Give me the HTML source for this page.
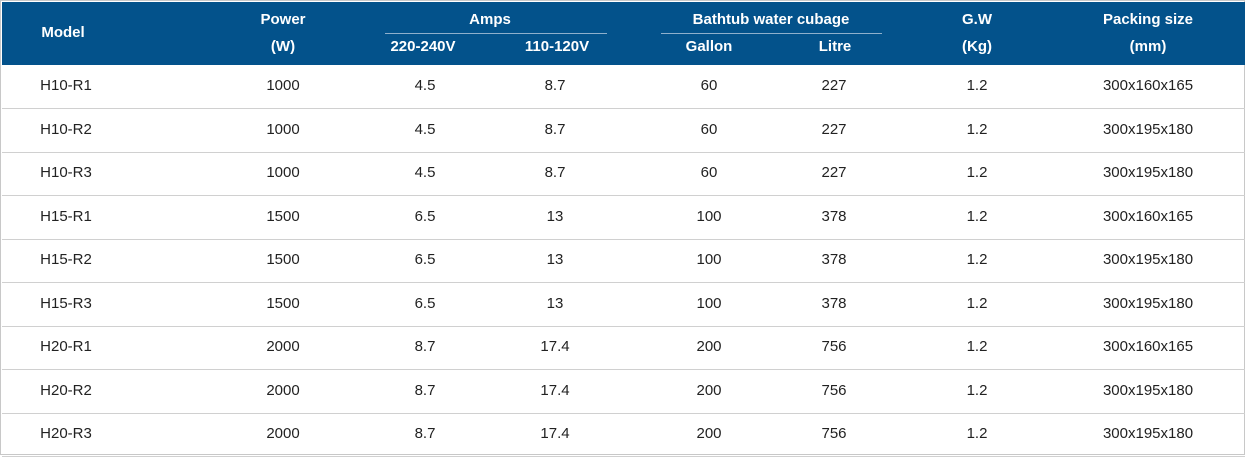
<!DOCTYPE html>
<html><head><meta charset="utf-8"><style>
body{margin:0;width:1245px;height:455px;overflow:hidden;background:#fff;font-family:"Liberation Sans",sans-serif;}
#t{position:absolute;left:0;top:0;width:1243px;height:453px;border:1px solid #c8c8c8;}
.hdr{position:absolute;left:1px;top:1px;width:1243px;height:63px;background:#03528b;}
.h{position:absolute;color:#fff;font-weight:bold;font-size:15px;transform:translateX(-50%);white-space:nowrap;}
.ul{position:absolute;height:1px;background:#8fb0cc;top:31px;}
.row{position:absolute;left:1px;width:1243px;height:43px;border-bottom:1px solid #d0d0d0;}
.c{position:absolute;top:12px;font-size:15px;color:#222;transform:translateX(-50%);white-space:nowrap;}
</style></head><body>
<div id="t">
<div class="hdr">
<span class="h" style="left:61px;top:22px">Model</span>
<span class="h" style="left:281px;top:9px">Power</span>
<span class="h" style="left:281px;top:36px">(W)</span>
<span class="h" style="left:488px;top:9px">Amps</span>
<div class="ul" style="left:383px;width:222px"></div>
<span class="h" style="left:421px;top:36px">220-240V</span>
<span class="h" style="left:555px;top:36px">110-120V</span>
<span class="h" style="left:769px;top:9px">Bathtub water cubage</span>
<div class="ul" style="left:659px;width:221px"></div>
<span class="h" style="left:707px;top:36px">Gallon</span>
<span class="h" style="left:833px;top:36px">Litre</span>
<span class="h" style="left:975px;top:9px">G.W</span>
<span class="h" style="left:975px;top:36px">(Kg)</span>
<span class="h" style="left:1146px;top:9px">Packing size</span>
<span class="h" style="left:1146px;top:36px">(mm)</span>
</div>
<div id="body"></div>
</div>
<script>
const rows=[
["H10-R1","1000","4.5","8.7","60","227","1.2","300x160x165"],
["H10-R2","1000","4.5","8.7","60","227","1.2","300x195x180"],
["H10-R3","1000","4.5","8.7","60","227","1.2","300x195x180"],
["H15-R1","1500","6.5","13","100","378","1.2","300x160x165"],
["H15-R2","1500","6.5","13","100","378","1.2","300x195x180"],
["H15-R3","1500","6.5","13","100","378","1.2","300x195x180"],
["H20-R1","2000","8.7","17.4","200","756","1.2","300x160x165"],
["H20-R2","2000","8.7","17.4","200","756","1.2","300x195x180"],
["H20-R3","2000","8.7","17.4","200","756","1.2","300x195x180"]];
const cx=[64,281,423,553,707,832,975,1146];
const names=["model","power","amps-220","amps-110","gallon","litre","gw","packing"];
const b=document.getElementById('body');
rows.forEach((r,i)=>{
 const d=document.createElement('div');d.className='row';
 d.style.top=(64+i*43.5)+'px';
 
 
 r.forEach((v,j)=>{
  const s=document.createElement('span');s.className='c';s.textContent=v;
  s.style.left=cx[j]+'px';
  
  
  d.appendChild(s);
 });
 b.appendChild(d);
});
</script>
</body></html>
